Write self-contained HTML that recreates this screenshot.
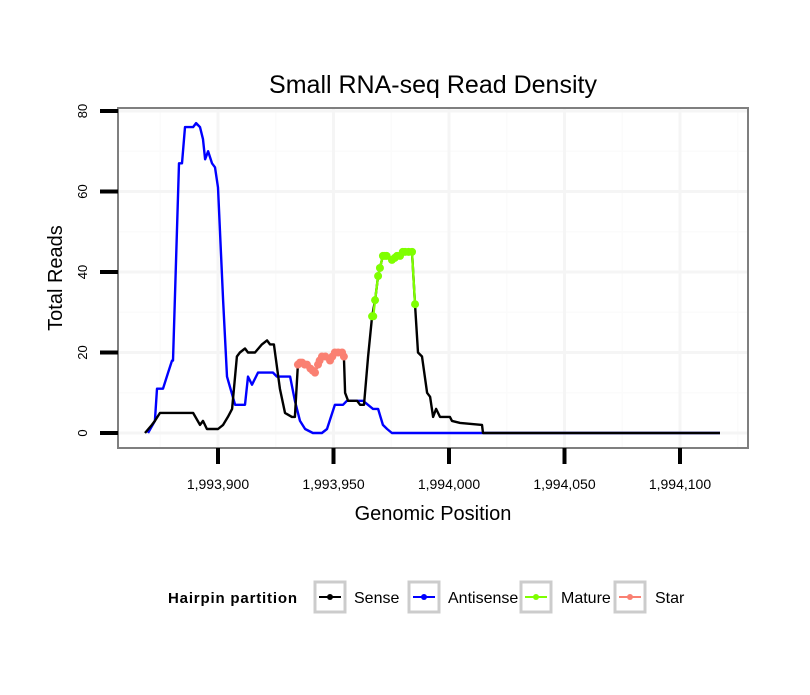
<!DOCTYPE html>
<html><head><meta charset="utf-8">
<style>
body{margin:0;background:#fff;}
svg text{font-family:"Liberation Sans",sans-serif;}
</style></head>
<body>
<svg id="chart" width="810" height="690" viewBox="0 0 810 690" xmlns="http://www.w3.org/2000/svg">
<rect width="810" height="690" fill="#fff"/>
<text x="433" y="93" text-anchor="middle" font-size="25">Small RNA-seq Read Density</text>
<g id="grid"></g>
<g id="series"></g>
<rect x="118" y="108" width="630" height="340" fill="none" stroke="#7f7f7f" stroke-width="2"/>
<g id="axes"></g>
<text x="433" y="520" text-anchor="middle" font-size="20">Genomic Position</text>
<text transform="translate(62,278) rotate(-90)" text-anchor="middle" font-size="20">Total Reads</text>
<g>
<text x="168" y="603" font-size="15" font-weight="bold" textLength="129">Hairpin partition</text>
<g><rect x="315" y="582" width="30" height="30" fill="#fff" stroke="#ccc" stroke-width="3"/><line x1="319" y1="597" x2="341" y2="597" stroke="#000" stroke-width="2"/><circle cx="330" cy="597" r="3" fill="#000"/><text x="354" y="603" font-size="16">Sense</text></g>
<g><rect x="409" y="582" width="30" height="30" fill="#fff" stroke="#ccc" stroke-width="3"/><line x1="413" y1="597" x2="435" y2="597" stroke="#00f" stroke-width="2"/><circle cx="424" cy="597" r="3" fill="#00f"/><text x="448" y="603" font-size="16">Antisense</text></g>
<g><rect x="521" y="582" width="30" height="30" fill="#fff" stroke="#ccc" stroke-width="3"/><line x1="525" y1="597" x2="547" y2="597" stroke="#7fff00" stroke-width="2"/><circle cx="536" cy="597" r="3" fill="#7fff00"/><text x="561" y="603" font-size="16">Mature</text></g>
<g><rect x="615" y="582" width="30" height="30" fill="#fff" stroke="#ccc" stroke-width="3"/><line x1="619" y1="597" x2="641" y2="597" stroke="#fa8072" stroke-width="2"/><circle cx="630" cy="597" r="3" fill="#fa8072"/><text x="655" y="603" font-size="16">Star</text></g>
</g>
</svg>
<script>
const senseX=[1993868.4,1993871.4,1993872.7,1993874.9,1993889.2,1993892.2,1993893.5,1993895.2,1993900,1993902.2,1993904.3,1993906.1,1993908.2,1993909.5,1993911.7,1993913,1993916,1993919,1993921.2,1993922.5,1993924.2,1993926.8,1993929,1993932,1993933.3,1993934.6,1993936.4,1993938.5,1993942,1993943.3,1993945,1993948.5,1993950.6,1993953.7,1993954.5,1993955,1993956.3,1993960.2,1993961.5,1993963.2,1993965,1993966.7,1993968,1993969.3,1993970.1,1993971.4,1993975.3,1993978.8,1993981,1993984,1993985.3,1993986.6,1993988.3,1993990.5,1993991.8,1993993.1,1993994.4,1993996.1,1994000.4,1994001.3,1994004.8,1994014.3,1994014.7,1994117.3];
const senseY=[0,2,3,5,5,2,3,1,1,2,4,6,19,20,21,20,20,22,23,22,22,11,5,4,4,17,17.5,17,15,17,19,18,20,20,19,10,8,8,7,7,19,29,33,39,41,44,43,44,45,45,32,20,19,10,9,4,6,4,4,3,2.5,2,0,0];
const antiX=[1993869.7,1993872.7,1993873.6,1993876.2,1993878.4,1993880.1,1993880.5,1993883.1,1993884.4,1993885.7,1993889.2,1993890.5,1993892.2,1993893.5,1993894.4,1993895.7,1993897.4,1993898.7,1993900,1993902.2,1993903.9,1993907.4,1993911.7,1993913,1993914.7,1993917.3,1993923.8,1993925.5,1993931.2,1993933.3,1993935.5,1993937.7,1993941.1,1993945,1993947.2,1993950.6,1993954.1,1993955.8,1993962.8,1993967.1,1993969.3,1993971.4,1993973.2,1993975.3,1994117.3];
const antiY=[0,3,11,11,15,18,18,67,67,76,76,77,76,73,68,70,67,66,61,33,14,7,7,14,12,15,15,14,14,8,3,1,0,0,1,7,7,8,8,6,6,2,1,0,0];
const starX=[1993934.6,1993935.5,1993936.4,1993937.5,1993938.5,1993940,1993941,1993942,1993943.3,1993944,1993945,1993946.5,1993948.5,1993949.5,1993950.6,1993952,1993953.7,1993954.5];
const starY=[17,17.5,17.5,17,17,16,15.5,15,17,18,19,19,18,19,20,20,20,19];
const matureX=[1993966.7,1993967.2,1993968,1993969.3,1993970.1,1993971.4,1993972.2,1993973,1993975.3,1993976.5,1993977.5,1993978.8,1993980,1993981,1993982.5,1993984,1993985.3];
const matureY=[29,29,33,39,41,44,44,44,43,43.5,44,44,45,45,45,45,32];
const xTicks=[1993900,1993950,1994000,1994050,1994100];
const xTickLabels=["1,993,900","1,993,950","1,994,000","1,994,050","1,994,100"];
const yTicks=[0,20,40,60,80];
const yTickLabels=["0","20","40","60","80"];

const NS="http://www.w3.org/2000/svg";
function sx(v){return 218+(v-1993900)*2.31;}
function sy(v){return 433-v*4.025;}
function mk(tag,attrs,parent){const e=document.createElementNS(NS,tag);for(const k in attrs)e.setAttribute(k,attrs[k]);parent.appendChild(e);return e;}
const grid=document.getElementById('grid'),series=document.getElementById('series'),axes=document.getElementById('axes');
for(let i=0;i<=xTicks.length;i++){
  const mv=(i<xTicks.length?xTicks[i]:xTicks[xTicks.length-1]+50)-25;const mx=sx(mv);
  if(mx>118&&mx<748){const l=mk('line',{x1:mx,x2:mx,y1:108,y2:448,stroke:'#fbfbfb','stroke-width':1.5},grid);
  
  }
}
for(let i=0;i<yTicks.length;i++){
  const my=sy(yTicks[i]+10);
  if(my>108){const l=mk('line',{x1:118,x2:748,y1:my,y2:my,stroke:'#fbfbfb','stroke-width':1.5},grid);
  
  }
}
xTicks.forEach((t,i)=>{
  const x=sx(t);
  const g=mk('line',{x1:x,x2:x,y1:108,y2:448,stroke:'#f5f5f5','stroke-width':3},grid);
  
  
  const tk=mk('line',{x1:x,x2:x,y1:448,y2:464,stroke:'#000','stroke-width':4},axes);
  
  
  const tx=mk('text',{x:x,y:489,'text-anchor':'middle','font-size':14},axes);
  tx.textContent=xTickLabels[i];
  
  
});
yTicks.forEach((t,i)=>{
  const y=sy(t);
  const g=mk('line',{x1:118,x2:748,y1:y,y2:y,stroke:'#f5f5f5','stroke-width':3},grid);
  
  
  const tk=mk('line',{x1:100,x2:118,y1:y,y2:y,stroke:'#000','stroke-width':4},axes);
  
  
  const tx=mk('text',{transform:`translate(87,${y}) rotate(-90)`,'text-anchor':'middle','font-size':13},axes);
  tx.textContent=yTickLabels[i];
  
  
});
function line(xs,ys,color,name){
  const d=xs.map((v,i)=>(i?'L':'M')+sx(v).toFixed(1)+','+sy(ys[i]).toFixed(1)).join(' ');
  const p=mk('path',{d:d,fill:'none',stroke:color,'stroke-width':2.4,'stroke-linejoin':'round'},series);
  
  
}
function pts(xs,ys,color,name){
  xs.forEach((v,i)=>{
    const c=mk('circle',{cx:sx(v),cy:sy(ys[i]),r:4,fill:color},series);
    
    
  });
}
line(antiX,antiY,'#0000ff','antisense-line');
line(senseX,senseY,'#000000','sense-line');
line(starX,starY,'#fa8072','star-line');
pts(starX,starY,'#fa8072','star-point');
line(matureX,matureY,'#7fff00','mature-line');
pts(matureX,matureY,'#7fff00','mature-point');
</script>
</body></html>
